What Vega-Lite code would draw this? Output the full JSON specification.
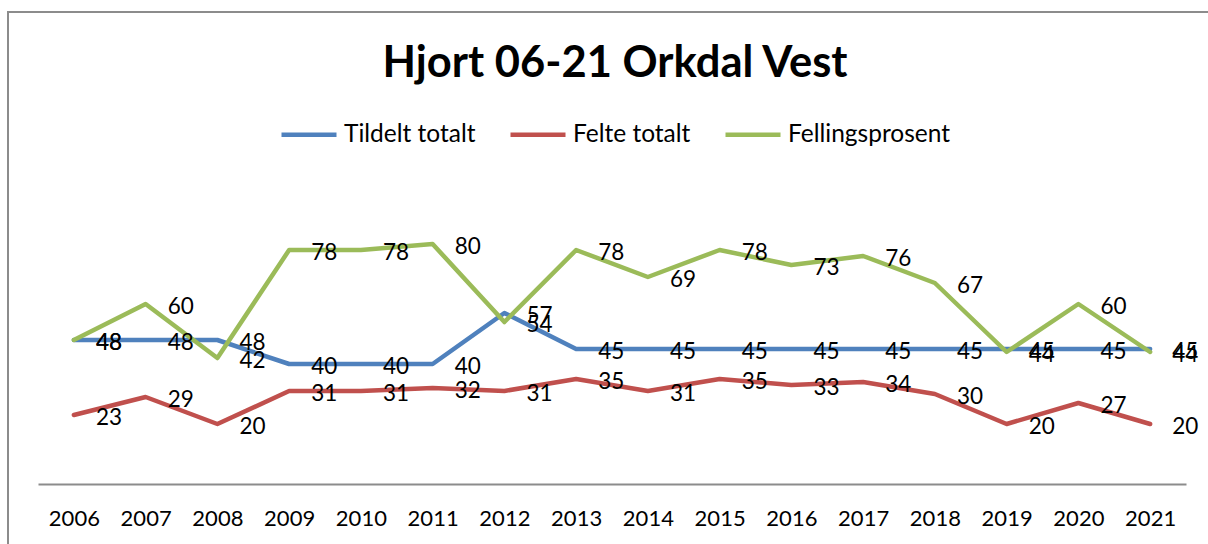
{
  "$schema": "https://vega.github.io/schema/vega-lite/v6.json",
  "autosize": {"type": "none"},
  "width": 1204,
  "height": 536,
  "padding": {"left": 8, "top": 12, "right": -4, "bottom": -4},
  "background": "white",
  "title": {
    "text": "Orkdal Vest tildelt og felt",
    "anchor": "start",
    "frame": "group",
    "font": "Liberation Serif",
    "fontSize": 27,
    "fontWeight": "normal",
    "color": "black",
    "baseline": "alphabetic",
    "offset": 7,
    "dx": -8
  },
  "data": {
    "values": [
      {"year": "2006", "series": "Tildelt totalt", "value": 48},
      {"year": "2007", "series": "Tildelt totalt", "value": 48},
      {"year": "2008", "series": "Tildelt totalt", "value": 48},
      {"year": "2009", "series": "Tildelt totalt", "value": 40},
      {"year": "2010", "series": "Tildelt totalt", "value": 40},
      {"year": "2011", "series": "Tildelt totalt", "value": 40},
      {"year": "2012", "series": "Tildelt totalt", "value": 57},
      {"year": "2013", "series": "Tildelt totalt", "value": 45},
      {"year": "2014", "series": "Tildelt totalt", "value": 45},
      {"year": "2015", "series": "Tildelt totalt", "value": 45},
      {"year": "2016", "series": "Tildelt totalt", "value": 45},
      {"year": "2017", "series": "Tildelt totalt", "value": 45},
      {"year": "2018", "series": "Tildelt totalt", "value": 45},
      {"year": "2019", "series": "Tildelt totalt", "value": 45},
      {"year": "2020", "series": "Tildelt totalt", "value": 45},
      {"year": "2021", "series": "Tildelt totalt", "value": 45},
      {"year": "2006", "series": "Felte totalt", "value": 23},
      {"year": "2007", "series": "Felte totalt", "value": 29},
      {"year": "2008", "series": "Felte totalt", "value": 20},
      {"year": "2009", "series": "Felte totalt", "value": 31},
      {"year": "2010", "series": "Felte totalt", "value": 31},
      {"year": "2011", "series": "Felte totalt", "value": 32},
      {"year": "2012", "series": "Felte totalt", "value": 31},
      {"year": "2013", "series": "Felte totalt", "value": 35},
      {"year": "2014", "series": "Felte totalt", "value": 31},
      {"year": "2015", "series": "Felte totalt", "value": 35},
      {"year": "2016", "series": "Felte totalt", "value": 33},
      {"year": "2017", "series": "Felte totalt", "value": 34},
      {"year": "2018", "series": "Felte totalt", "value": 30},
      {"year": "2019", "series": "Felte totalt", "value": 20},
      {"year": "2020", "series": "Felte totalt", "value": 27},
      {"year": "2021", "series": "Felte totalt", "value": 20},
      {"year": "2006", "series": "Fellingsprosent", "value": 48},
      {"year": "2007", "series": "Fellingsprosent", "value": 60},
      {"year": "2008", "series": "Fellingsprosent", "value": 42},
      {"year": "2009", "series": "Fellingsprosent", "value": 78},
      {"year": "2010", "series": "Fellingsprosent", "value": 78},
      {"year": "2011", "series": "Fellingsprosent", "value": 80},
      {"year": "2012", "series": "Fellingsprosent", "value": 54},
      {"year": "2013", "series": "Fellingsprosent", "value": 78},
      {"year": "2014", "series": "Fellingsprosent", "value": 69},
      {"year": "2015", "series": "Fellingsprosent", "value": 78},
      {"year": "2016", "series": "Fellingsprosent", "value": 73},
      {"year": "2017", "series": "Fellingsprosent", "value": 76},
      {"year": "2018", "series": "Fellingsprosent", "value": 67},
      {"year": "2019", "series": "Fellingsprosent", "value": 44},
      {"year": "2020", "series": "Fellingsprosent", "value": 60},
      {"year": "2021", "series": "Fellingsprosent", "value": 44}
    ]
  },
  "encoding": {
    "x": {
      "field": "year",
      "type": "ordinal",
      "sort": null,
      "scale": {"type": "point", "range": [30, 1178], "padding": 0.5},
      "axis": {
        "title": null,
        "orient": "bottom",
        "offset": -64,
        "labelAngle": 0,
        "labelFont": "Lato",
        "labelFontSize": 22,
        "labelColor": "black",
        "labelPadding": 24,
        "ticks": false,
        "grid": false,
        "domainColor": "#8c8c8c",
        "domainWidth": 2
      }
    },
    "y": {
      "field": "value",
      "type": "quantitative",
      "scale": {"domain": [-21.33, 157.33], "nice": false, "zero": false},
      "axis": null
    }
  },
  "layer": [
    {
      "mark": {"type": "line", "strokeWidth": 4.5, "strokeCap": "round", "strokeJoin": "round"},
      "encoding": {
        "color": {
          "field": "series",
          "type": "nominal",
          "scale": {
            "domain": ["Tildelt totalt", "Felte totalt", "Fellingsprosent"],
            "range": ["#4F81BD", "#C0504D", "#9BBB59"]
          },
          "legend": {
            "title": "Hjort 06-21 Orkdal Vest",
            "orient": "none",
            "legendX": 271,
            "legendY": 31,
            "direction": "horizontal",
            "padding": 0,
            "titleAnchor": "middle",
            "titleFont": "Lato",
            "titleFontSize": 43.5,
            "titleFontWeight": "bold",
            "titleColor": "black",
            "titleLimit": 1000,
            "titlePadding": 18,
            "labelFont": "Lato",
            "labelFontSize": 24.5,
            "labelColor": "black",
            "labelLimit": 400,
            "labelOffset": 5,
            "columnPadding": 25,
            "symbolType": "stroke",
            "symbolSize": 3025,
            "symbolStrokeWidth": 4.5
          }
        }
      }
    },
    {
      "mark": {
        "type": "text",
        "align": "left",
        "baseline": "middle",
        "dx": 22,
        "dy": 3,
        "font": "Lato",
        "fontSize": 22.5,
        "color": "black"
      },
      "encoding": {
        "text": {"field": "value", "type": "quantitative"},
        "detail": {"field": "series", "type": "nominal"}
      }
    }
  ],
  "config": {
    "view": {"stroke": "#8c8c8c", "strokeWidth": 2}
  }
}
